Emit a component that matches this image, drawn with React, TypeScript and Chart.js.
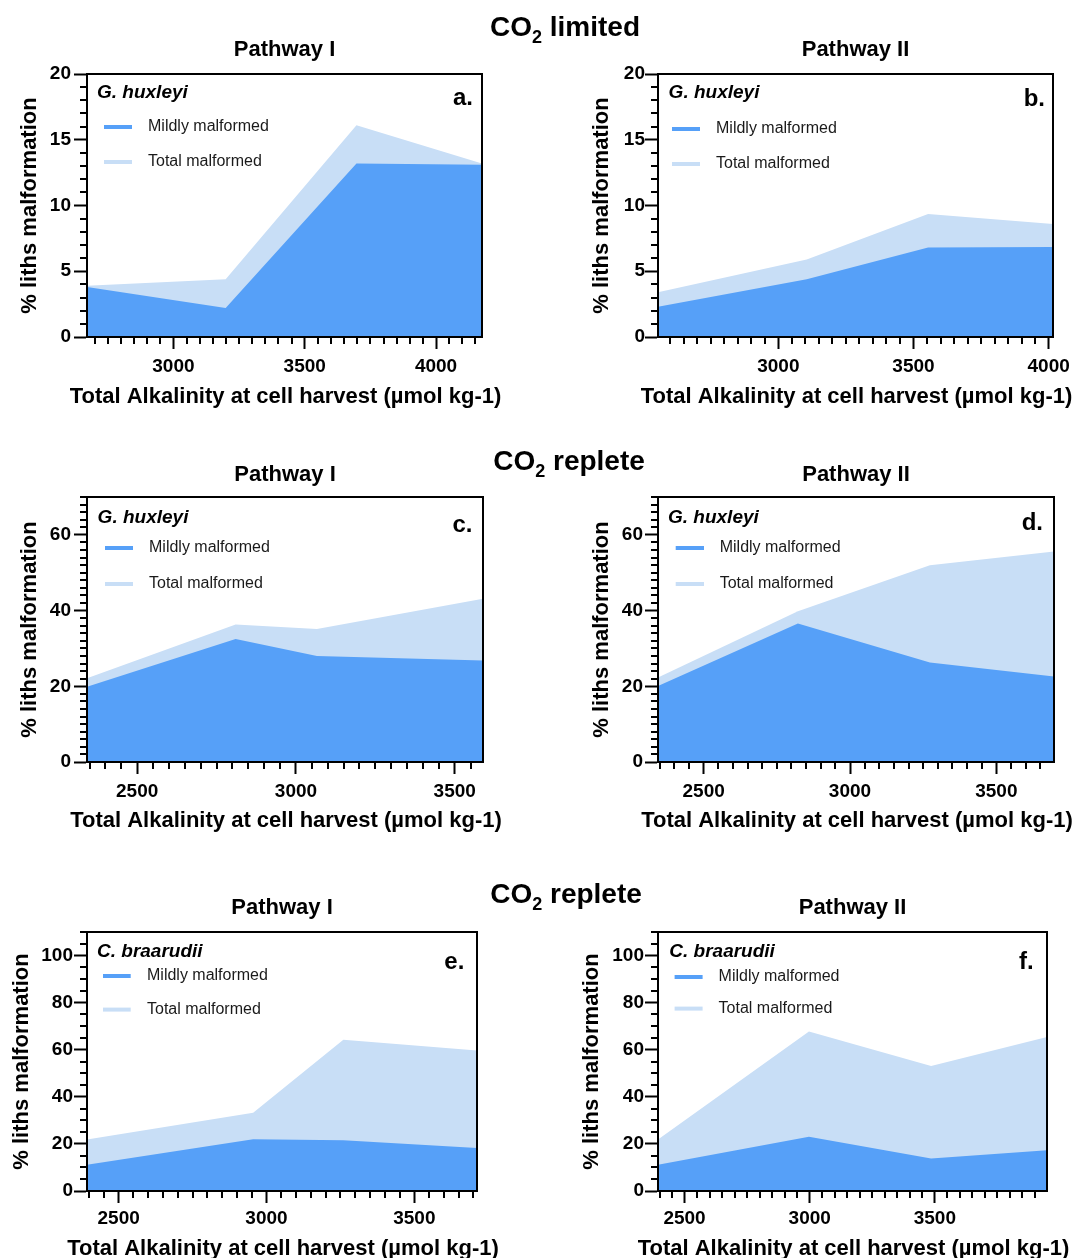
import React, { useEffect, useRef } from 'react';
import { Chart, registerables } from 'chart.js';

Chart.register(...registerables);

const FONT = '"Liberation Sans", Arial, Helvetica, sans-serif';
const MILD_COLOR = 'rgb(86,160,248)';
const TOTAL_COLOR = 'rgb(200,222,246)';

// ---------- data (Total Alkalinity at cell harvest, % liths malformation) ----------
// Panel a: CO2 limited, Pathway I, G. huxleyi
const taA = [2671, 3199, 3697, 4175];
const mildA = [3.8, 2.2, 13.2, 13.1];
const totalA = [3.9, 4.4, 16.1, 13.2];
// Panel b: CO2 limited, Pathway II, G. huxleyi
const taB = [2555, 3105, 3554, 4016];
const mildB = [2.3, 4.4, 6.8, 6.85];
const totalB = [3.4, 5.9, 9.35, 8.6];
// Panel c: CO2 replete, Pathway I, G. huxleyi
const taC = [2342, 2810, 3066, 3589];
const mildC = [19.9, 32.5, 28.0, 26.8];
const totalC = [22.1, 36.3, 35.1, 43.1];
// Panel d: CO2 replete, Pathway II, G. huxleyi
const taD = [2344, 2822, 3273, 3697];
const mildD = [20.1, 36.6, 26.3, 22.6];
const totalD = [22.3, 39.8, 52.0, 55.6];
// Panel e: CO2 replete, Pathway I, C. braarudii
const taE = [2393, 2955, 3260, 3712];
const mildE = [11.2, 22.0, 21.6, 18.3];
const totalE = [21.9, 33.2, 64.2, 59.7];
// Panel f: CO2 replete, Pathway II, C. braarudii
const taF = [2394, 2997, 3485, 3948];
const mildF = [11.2, 23.0, 13.8, 17.3];
const totalF = [21.9, 67.7, 53.1, 65.4];

const seriesLabels = ['Mildly malformed', 'Total malformed'];
const xAxisTitle = 'Total Alkalinity at cell harvest (µmol kg-1)';
const yAxisTitle = '% liths malformation';
const rowTitles = [
  { main: 'CO', sub: '2', rest: ' limited' },
  { main: 'CO', sub: '2', rest: ' replete' },
  { main: 'CO', sub: '2', rest: ' replete' },
];

// ---------- layout (page pixel coords) ----------
type Panel = {
  letter: string; species: string; pathway: string;
  xs: number[]; mild: number[]; total: number[];
  yMax: number; yMajor: number; yMinor: number;
  canvas: { left: number; top: number; w: number; h: number };
  area: { L: number; T: number; R: number; B: number };
  yTitlePad: number; xTitleY: number; xTickPad: number; yTickPad: number;
  pathY: number;
  sp: [number, number]; sw: [number, number]; txt: number; l1: number; l2: number; let: [number, number];
};

const ROWS = [
  { top: 30, h: 390 },
  { top: 450, h: 405 },
  { top: 885, h: 373 },
];

const panels: Panel[] = [
  {
    letter: 'a.', species: 'G. huxleyi', pathway: 'Pathway I', xs: taA, mild: mildA, total: totalA,
    yMax: 20, yMajor: 5, yMinor: 1,
    canvas: { left: 0, top: ROWS[0].top, w: 536, h: ROWS[0].h },
    area: { L: 87, T: 74, R: 482, B: 337 },
    yTitlePad: 19, xTitleY: 397, xTickPad: 6, yTickPad: 3, pathY: 50,
    sp: [10, 19], sw: [17, 45], txt: 61, l1: 53, l2: 88, let: [9, 24],
  },
  {
    letter: 'b.', species: 'G. huxleyi', pathway: 'Pathway II', xs: taB, mild: mildB, total: totalB,
    yMax: 20, yMajor: 5, yMinor: 1,
    canvas: { left: 536, top: ROWS[0].top, w: 536, h: ROWS[0].h },
    area: { L: 658, T: 74, R: 1053, B: 337 },
    yTitlePad: 54.7, xTitleY: 397, xTickPad: 6, yTickPad: 0, pathY: 50,
    sp: [10.6, 19], sw: [14, 42], txt: 58, l1: 55, l2: 90, let: [8, 25],
  },
  {
    letter: 'c.', species: 'G. huxleyi', pathway: 'Pathway I', xs: taC, mild: mildC, total: totalC,
    yMax: 70, yMajor: 20, yMinor: 2,
    canvas: { left: 0, top: ROWS[1].top, w: 536, h: ROWS[1].h },
    area: { L: 87, T: 497, R: 483, B: 762 },
    yTitlePad: 19, xTitleY: 821, xTickPad: 6, yTickPad: 3, pathY: 475,
    sp: [10.6, 21], sw: [18, 46], txt: 62, l1: 51, l2: 87, let: [10.6, 28],
  },
  {
    letter: 'd.', species: 'G. huxleyi', pathway: 'Pathway II', xs: taD, mild: mildD, total: totalD,
    yMax: 70, yMajor: 20, yMinor: 2,
    canvas: { left: 536, top: ROWS[1].top, w: 536, h: ROWS[1].h },
    area: { L: 658, T: 497, R: 1054, B: 762 },
    yTitlePad: 54.7, xTitleY: 821, xTickPad: 6, yTickPad: 2, pathY: 475,
    sp: [10, 21], sw: [17.7, 46], txt: 61.7, l1: 51, l2: 87, let: [11, 26],
  },
  {
    letter: 'e.', species: 'C. braarudii', pathway: 'Pathway I', xs: taE, mild: mildE, total: totalE,
    yMax: 110, yMajor: 20, yMinor: 5,
    canvas: { left: 0, top: ROWS[2].top, w: 536, h: ROWS[2].h },
    area: { L: 87, T: 932, R: 477, B: 1191 },
    yTitlePad: 10.7, xTitleY: 1249, xTickPad: 4, yTickPad: 1, pathY: 908,
    sp: [10, 20], sw: [16, 43.7], txt: 60, l1: 44, l2: 77.6, let: [12.7, 30],
  },
  {
    letter: 'f.', species: 'C. braarudii', pathway: 'Pathway II', xs: taF, mild: mildF, total: totalF,
    yMax: 110, yMajor: 20, yMinor: 5,
    canvas: { left: 536, top: ROWS[2].top, w: 536, h: ROWS[2].h },
    area: { L: 658, T: 932, R: 1047, B: 1191 },
    yTitlePad: 45.3, xTitleY: 1249, xTickPad: 4, yTickPad: 1, pathY: 908,
    sp: [11.3, 20], sw: [16.6, 44.6], txt: 60.6, l1: 45, l2: 76.6, let: [13.3, 30],
  },
];

const X_MAJOR = 500;
const X_MINOR = 50;

function ticksBetween(min: number, max: number, step: number) {
  const out: number[] = [];
  for (let v = Math.ceil(min / step - 1e-9) * step; v <= max + 1e-9; v += step) out.push(Math.round(v));
  return out;
}

function PanelChart({ p }: { p: Panel }) {
  const ref = useRef<HTMLCanvasElement | null>(null);
  useEffect(() => {
    if (!ref.current) return;
    const { canvas, area } = p;
    const xMin = p.xs[0];
    const xMax = p.xs[p.xs.length - 1];

    const decor = {
      id: 'decor',
      afterDatasetsDraw(chart: any) {
        const { ctx, chartArea: ca, scales } = chart;
        const xs = scales.x;
        const ys = scales.y;
        ctx.save();
        // frame
        ctx.strokeStyle = '#000';
        ctx.lineWidth = 2;
        ctx.strokeRect(ca.left, ca.top, ca.right - ca.left, ca.bottom - ca.top);
        // minor ticks
        ctx.beginPath();
        for (const v of ticksBetween(xMin, xMax, X_MINOR)) {
          if (v % X_MAJOR === 0) continue;
          const px = Math.round(xs.getPixelForValue(v));
          ctx.moveTo(px, ca.bottom);
          ctx.lineTo(px, ca.bottom + 7);
        }
        for (const v of ticksBetween(0, p.yMax, p.yMinor)) {
          if (v % p.yMajor === 0) continue;
          const py = Math.round(ys.getPixelForValue(v));
          ctx.moveTo(ca.left, py);
          ctx.lineTo(ca.left - 7, py);
        }
        ctx.stroke();

        // species name
        ctx.fillStyle = '#000';
        ctx.textBaseline = 'middle';
        ctx.textAlign = 'left';
        ctx.font = `italic bold 19px ${FONT}`;
        ctx.fillText(p.species, ca.left + p.sp[0], ca.top + p.sp[1]);
        // panel letter
        ctx.textAlign = 'right';
        ctx.font = `bold 24px ${FONT}`;
        ctx.fillText(p.letter, ca.right - p.let[0], ca.top + p.let[1]);
        // legend
        const ds = chart.data.datasets;
        const rowsY = [p.l1, p.l2];
        ctx.font = `16px ${FONT}`;
        ctx.textAlign = 'left';
        ds.forEach((d: any, i: number) => {
          const y = ca.top + rowsY[i];
          ctx.strokeStyle = d.backgroundColor;
          ctx.lineWidth = 4;
          ctx.beginPath();
          ctx.moveTo(ca.left + p.sw[0], y);
          ctx.lineTo(ca.left + p.sw[1], y);
          ctx.stroke();
          ctx.fillStyle = '#1a1a1a';
          ctx.fillText(d.label, ca.left + p.txt, y);
        });
        // pathway title
        ctx.fillStyle = '#000';
        ctx.textAlign = 'center';
        ctx.font = `bold 22px ${FONT}`;
        ctx.fillText(p.pathway, (ca.left + ca.right) / 2, p.pathY - canvas.top);
        // x axis title
        ctx.font = `bold 22px ${FONT}`;
        ctx.fillText(xAxisTitle, (ca.left + ca.right) / 2 + 1, p.xTitleY - canvas.top);
        ctx.restore();
      },
    };

    const chart = new Chart(ref.current, {
      type: 'line',
      data: {
        datasets: [
          {
            label: seriesLabels[0],
            data: p.xs.map((x, i) => ({ x, y: p.mild[i] })),
            backgroundColor: MILD_COLOR,
            borderColor: MILD_COLOR,
            borderWidth: 0,
            pointRadius: 0,
            fill: 'origin',
            tension: 0,
          },
          {
            label: seriesLabels[1],
            data: p.xs.map((x, i) => ({ x, y: p.total[i] })),
            backgroundColor: TOTAL_COLOR,
            borderColor: TOTAL_COLOR,
            borderWidth: 0,
            pointRadius: 0,
            fill: 'origin',
            tension: 0,
          },
        ],
      },
      options: {
        animation: false,
        responsive: false,
        devicePixelRatio: 1,
        layout: {
          padding: {
            left: 0,
            top: area.T - canvas.top,
            right: canvas.left + canvas.w - area.R,
            bottom: 0,
          },
        },
        plugins: {
          legend: { display: false },
          title: { display: false },
          tooltip: { enabled: false },
        },
        scales: {
          x: {
            type: 'linear',
            min: xMin,
            max: xMax,
            afterBuildTicks: (s: any) => {
              s.ticks = ticksBetween(xMin, xMax, X_MAJOR).map((v) => ({ value: v }));
            },
            afterFit: (s: any) => {
              s.height = canvas.top + canvas.h - area.B;
              s.paddingLeft = 0;
              s.paddingRight = 0;
            },
            ticks: {
              callback: (v: any) => String(v),
              font: { family: FONT, size: 19, weight: 'bold' },
              color: '#000',
              padding: p.xTickPad,
              maxRotation: 0,
              autoSkip: false,
            },
            grid: {
              display: true,
              drawOnChartArea: false,
              drawTicks: true,
              tickLength: 12,
              tickWidth: 2,
              tickColor: '#000',
            },
            border: { display: true, width: 2, color: '#000' },
            title: { display: false },
          },
          y: {
            type: 'linear',
            min: 0,
            max: p.yMax,
            afterBuildTicks: (s: any) => {
              s.ticks = ticksBetween(0, p.yMax, p.yMajor).map((v) => ({ value: v }));
            },
            afterFit: (s: any) => {
              s.width = area.L - canvas.left;
              s.paddingTop = 0;
              s.paddingBottom = 0;
            },
            ticks: {
              callback: (v: any) => String(v),
              font: { family: FONT, size: 19, weight: 'bold' },
              color: '#000',
              padding: p.yTickPad,
              autoSkip: false,
            },
            grid: {
              display: true,
              drawOnChartArea: false,
              drawTicks: true,
              tickLength: 13,
              tickWidth: 2,
              tickColor: '#000',
            },
            border: { display: true, width: 2, color: '#000' },
            title: {
              display: true,
              text: yAxisTitle,
              color: '#000',
              font: { family: FONT, size: 22, weight: 'bold', lineHeight: 1 },
              padding: { top: p.yTitlePad, bottom: 0 },
            },
          },
        },
      } as any,
      plugins: [decor],
    });
    return () => chart.destroy();
  }, [p]);

  return (
    <canvas
      ref={ref}
      width={p.canvas.w}
      height={p.canvas.h}
      style={{
        position: 'absolute',
        left: p.canvas.left,
        top: p.canvas.top,
        width: p.canvas.w,
        height: p.canvas.h,
      }}
    />
  );
}

const rowTitlePos = [
  { cx: 565, top: 12 },
  { cx: 569, top: 446 },
  { cx: 566, top: 879 },
];

export default function App() {
  return (
    <div
      style={{
        position: 'absolute',
        left: 0,
        top: 0,
        width: 1072,
        height: 1258,
        background: '#fff',
        overflow: 'hidden',
      }}
    >
      {panels.map((p) => (
        <PanelChart key={p.letter} p={p} />
      ))}
      {rowTitles.map((t, i) => (
        <div
          key={i}
          style={{
            position: 'absolute',
            left: rowTitlePos[i].cx - 150,
            width: 300,
            top: rowTitlePos[i].top,
            textAlign: 'center',
            fontFamily: FONT,
            fontWeight: 'bold',
            fontSize: 28,
            lineHeight: '30px',
            color: '#000',
            whiteSpace: 'nowrap',
          }}
        >
          {t.main}
          <sub style={{ fontSize: 18, verticalAlign: '-7px', lineHeight: 0 }}>{t.sub}</sub>
          {t.rest}
        </div>
      ))}
    </div>
  );
}
